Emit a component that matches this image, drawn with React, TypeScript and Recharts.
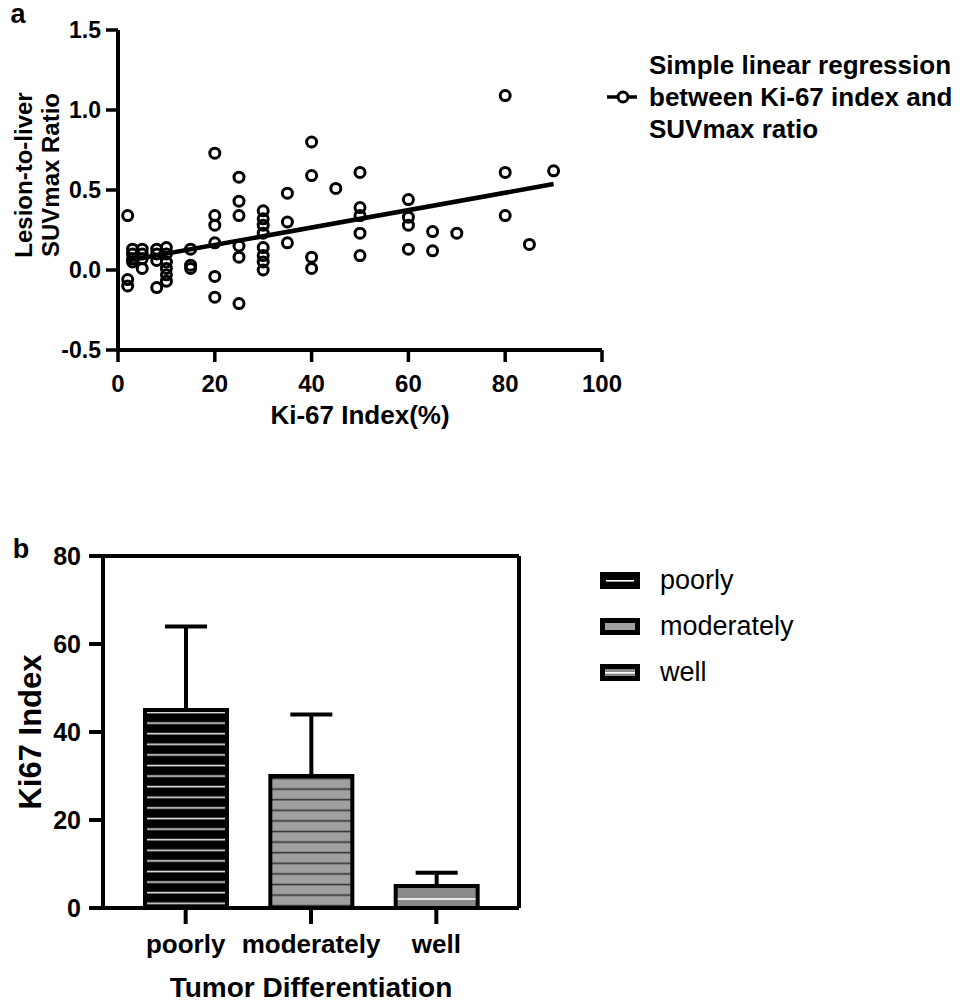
import React from "react"
import { ScatterChart, Scatter, XAxis, YAxis, BarChart, Bar, Cell, ErrorBar, Legend, ReferenceLine } from "recharts"

const FONT = "Arial, 'Liberation Sans', Helvetica, sans-serif"

// panel a: Ki-67 index (%) vs lesion-to-liver SUVmax ratio
const ki67Index = [
  2, 2, 2,
  3, 3, 3, 3,
  5, 5, 5, 5,
  8, 8, 8, 8,
  10, 10, 10, 10, 10, 10,
  15, 15, 15,
  20, 20, 20, 20, 20, 20,
  25, 25, 25, 25, 25, 25,
  30, 30, 30, 30, 30, 30, 30, 30,
  35, 35, 35,
  40, 40, 40, 40,
  45,
  50, 50, 50, 50, 50,
  60, 60, 60, 60,
  65, 65,
  70,
  80, 80, 80,
  85,
  90,
]
const suvRatio = [
  0.34, -0.06, -0.1,
  0.13, 0.1, 0.07, 0.05,
  0.13, 0.1, 0.07, 0.01,
  0.13, 0.1, 0.06, -0.11,
  0.14, 0.1, 0.05, 0.01, -0.03, -0.07,
  0.13, 0.03, 0.01,
  0.73, 0.34, 0.28, 0.17, -0.04, -0.17,
  0.58, 0.43, 0.34, 0.15, 0.08, -0.21,
  0.37, 0.32, 0.28, 0.23, 0.14, 0.09, 0.05, 0.0,
  0.48, 0.3, 0.17,
  0.8, 0.59, 0.08, 0.01,
  0.51,
  0.61, 0.39, 0.34, 0.23, 0.09,
  0.44, 0.33, 0.28, 0.13,
  0.24, 0.12,
  0.23,
  1.09, 0.61, 0.34,
  0.16,
  0.62,
]
const xTicks = [0, 20, 40, 60, 80, 100]
const yTicks = [-0.5, 0, 0.5, 1, 1.5]

// panel b: Ki67 index by tumor differentiation (mean + SD)
const differentiation = ["poorly", "moderately", "well"]
const ki67Mean = [45, 30, 5]
const ki67Sd = [19, 14, 3]
const barTicks = [0, 20, 40, 60, 80]

const points = ki67Index.map((x, i) => ({ x, y: suvRatio[i] }))

// simple least squares fit, drawn over the range of the data
const n = points.length
const mx = points.reduce((s, p) => s + p.x, 0) / n
const my = points.reduce((s, p) => s + p.y, 0) / n
const slope =
  points.reduce((s, p) => s + (p.x - mx) * (p.y - my), 0) /
  points.reduce((s, p) => s + (p.x - mx) * (p.x - mx), 0)
const intercept = my - slope * mx
const xMin = Math.min(...ki67Index)
const xMax = Math.max(...ki67Index)
const fitLine = [
  { x: xMin, y: intercept + slope * xMin },
  { x: xMax, y: intercept + slope * xMax },
]

const barData = differentiation.map((name, i) => ({ name, mean: ki67Mean[i], err: [0, ki67Sd[i]] }))
const barFills = ["url(#stripePoor)", "url(#stripeMod)", "url(#stripeWell)"]

const axisLine = { stroke: "#000", strokeWidth: 4 }
const tickLine = { stroke: "#000", strokeWidth: 3.5 }
const boldTick = (size: number) => ({ fill: "#000", fontSize: size, fontWeight: 700, fontFamily: FONT })

function Txt({ x, y, size, bold = true, rot = false, children }: any) {
  return (
    <div
      style={{
        position: "absolute",
        left: x,
        top: y,
        transform: `translate(-50%, -50%)${rot ? " rotate(-90deg)" : ""}`,
        fontSize: size,
        fontWeight: bold ? 700 : 400,
        lineHeight: 1,
        whiteSpace: "nowrap",
      }}
    >
      {children}
    </div>
  )
}

const RegressionLegend = () => (
  <div style={{ display: "flex", alignItems: "center", fontFamily: FONT }}>
    <svg width={46} height={16} style={{ flex: "none" }}>
      <line x1={4} y1={8} x2={34} y2={8} stroke="#000" strokeWidth={3.5} />
      <circle cx={20} cy={8} r={5} fill="#fff" stroke="#000" strokeWidth={3} />
    </svg>
    <div style={{ fontSize: 26, fontWeight: 700, lineHeight: "32px", whiteSpace: "nowrap", color: "#000" }}>
      Simple linear regression
      <br />
      between Ki-67 index and
      <br />
      SUVmax ratio
    </div>
  </div>
)

const Swatch = ({ kind }: { kind: number }) => (
  <svg width={40} height={17} style={{ flex: "none" }}>
    <rect x={0} y={0} width={40} height={17} fill="#000" />
    {kind === 0 && <rect x={6} y={8} width={28} height={1.6} fill="#fff" />}
    {kind === 1 && <rect x={5} y={5} width={30} height={7} fill="#a0a0a0" />}
    {kind === 2 && <rect x={5} y={5} width={30} height={7} fill="#8a8a8a" />}
    {kind === 2 && <rect x={5} y={8} width={30} height={1.6} fill="#fff" />}
  </svg>
)

const BarLegend = () => (
  <div style={{ fontFamily: FONT }}>
    {differentiation.map((d, i) => (
      <div key={d} style={{ display: "flex", alignItems: "center", height: 46 }}>
        <Swatch kind={i} />
        <span style={{ marginLeft: 20, fontSize: 27, color: "#000", whiteSpace: "nowrap" }}>{d}</span>
      </div>
    ))}
  </div>
)

export default function App() {
  return (
    <div style={{ position: "absolute", left: 0, top: 0, width: 968, height: 1001, background: "#fff", fontFamily: FONT, color: "#000" }}>
      <div style={{ position: "absolute", left: 0, top: 0 }}>
        <ScatterChart width={968} height={440} margin={{ top: 30, right: 366, bottom: 30, left: 58 }}>
          <XAxis
            type="number"
            dataKey="x"
            domain={[0, 100]}
            ticks={xTicks}
            height={60}
            axisLine={axisLine}
            tickLine={tickLine}
            tickSize={12}
            tickMargin={13}
            tick={boldTick(24)}
          />
          <YAxis
            type="number"
            dataKey="y"
            domain={[-0.5, 1.5]}
            ticks={yTicks}
            width={60}
            axisLine={axisLine}
            tickLine={tickLine}
            tickSize={12}
            tickMargin={5}
            tick={boldTick(23)}
            tickFormatter={(v: number) => v.toFixed(1)}
          />
          <Scatter
            data={fitLine}
            line={{ stroke: "#000", strokeWidth: 4.5 }}
            shape={() => <g />}
            legendType="none"
            isAnimationActive={false}
          />
          <Scatter
            data={points}
            isAnimationActive={false}
            shape={(p: any) => <circle cx={p.cx} cy={p.cy} r={5} fill="none" stroke="#000" strokeWidth={3} />}
          />
          <Legend
            layout="vertical"
            align="center"
            verticalAlign="middle"
            wrapperStyle={{ left: 603, top: 49, width: 365 }}
            content={() => <RegressionLegend />}
          />
        </ScatterChart>
      </div>

      <div style={{ position: "absolute", left: 0, top: 530 }}>
        <BarChart width={968} height={470} data={barData} margin={{ top: 26, right: 439, bottom: 32, left: 43 }}>
          <defs>
            <pattern id="stripePoor" patternUnits="userSpaceOnUse" x={0} y={187.7} width={20} height={10.6}>
              <rect x={0} y={0} width={20} height={10.6} fill="#000" />
              <rect x={0} y={4.6} width={20} height={1.6} fill="#e6e6e6" />
            </pattern>
            <pattern id="stripeMod" patternUnits="userSpaceOnUse" x={0} y={253.7} width={20} height={10.6}>
              <rect x={0} y={0} width={20} height={10.6} fill="#a0a0a0" />
              <rect x={0} y={4.6} width={20} height={1.6} fill="#333" />
            </pattern>
            <pattern id="stripeWell" patternUnits="userSpaceOnUse" x={0} y={349} width={20} height={30}>
              <rect x={0} y={0} width={20} height={30} fill="#8a8a8a" />
              <rect x={0} y={19.2} width={20} height={1.6} fill="#fff" />
            </pattern>
          </defs>
          <XAxis
            dataKey="name"
            height={60}
            padding={{ left: 20, right: 20 }}
            axisLine={axisLine}
            tickLine={{ stroke: "#000", strokeWidth: 4 }}
            tickSize={16}
            tickMargin={11}
            tick={boldTick(26)}
          />
          <YAxis
            domain={[0, 80]}
            ticks={barTicks}
            width={60}
            axisLine={axisLine}
            tickLine={{ stroke: "#000", strokeWidth: 4 }}
            tickSize={14}
            tickMargin={8}
            tick={boldTick(25)}
          />
          <YAxis
            yAxisId="frame"
            orientation="right"
            domain={[0, 80]}
            width={10}
            axisLine={axisLine}
            tick={false}
            tickLine={false}
          />
          <ReferenceLine y={80} stroke="#000" strokeWidth={4} />
          <Bar dataKey="mean" barSize={82} stroke="#000" strokeWidth={4} isAnimationActive={false}>
            {barData.map((d, i) => (
              <Cell key={d.name} fill={barFills[i]} />
            ))}
            <ErrorBar dataKey="err" direction="y" width={21} stroke="#000" strokeWidth={4} isAnimationActive={false} />
          </Bar>
          <Legend
            layout="vertical"
            align="center"
            verticalAlign="middle"
            wrapperStyle={{ left: 600, top: 27, width: 250 }}
            content={() => <BarLegend />}
          />
        </BarChart>
      </div>

      <Txt x={18} y={14} size={27}>a</Txt>
      <Txt x={24} y={175} size={24} rot>Lesion-to-liver</Txt>
      <Txt x={51} y={175} size={24} rot>SUVmax Ratio</Txt>
      <Txt x={360} y={415} size={26}>Ki-67 Index(%)</Txt>

      <Txt x={21} y={549} size={27}>b</Txt>
      <Txt x={30} y={732} size={31} rot>Ki67 Index</Txt>
      <Txt x={311} y={988} size={28}>Tumor Differentiation</Txt>
    </div>
  )
}
